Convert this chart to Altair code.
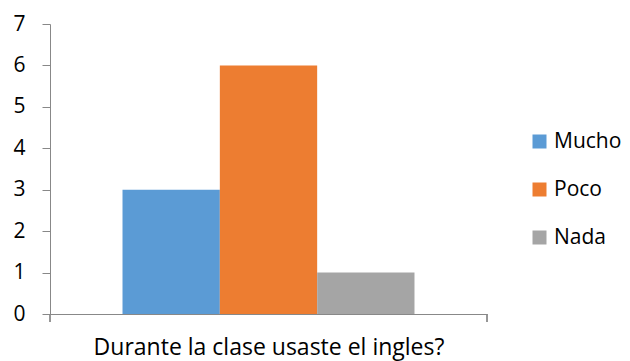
import altair as alt
import pandas as pd

series = ["Mucho", "Poco", "Nada"]
values = [3, 6, 1]
colors = ["#5B9BD5", "#ED7D31", "#A5A5A5"]
y_ticks = [0, 1, 2, 3, 4, 5, 6, 7]
x_title = "Durante la clase usaste el ingles?"

df = pd.DataFrame({"serie": series, "valor": values})

W, H = 437, 290
FONT = "Open Sans"
AX = "#888888"

bars = alt.Chart(df).mark_bar().encode(
    x=alt.X("serie:N", sort=series,
            scale=alt.Scale(paddingInner=0, paddingOuter=0.745),
            axis=alt.Axis(title=x_title, labels=False, ticks=False,
                          domainColor=AX, titleFont=FONT, titleFontSize=23,
                          titleFontWeight="normal", titleColor="#000000",
                          titlePadding=22)),
    y=alt.Y("valor:Q", scale=alt.Scale(domain=[0, 7], nice=False),
            axis=alt.Axis(title=None, values=y_ticks, grid=False, tickSize=8,
                          tickColor=AX, domainColor=AX, labelFont=FONT,
                          labelFontSize=21, labelColor="#000000",
                          labelPadding=17, format="d")),
    color=alt.Color("serie:N", sort=series,
                    scale=alt.Scale(domain=series, range=colors),
                    legend=alt.Legend(title=None, orient="none", legendX=479,
                                      legendY=107, symbolType="square",
                                      symbolSize=196, symbolStrokeWidth=0,
                                      labelFont=FONT, labelFontSize=21,
                                      labelColor="#000000", labelOffset=4,
                                      rowPadding=26)),
)

tick_l = alt.Chart(df).mark_rule(color=AX, strokeWidth=1).encode(
    x=alt.value(0), y=alt.value(H), y2=alt.value(H + 8))
tick_r = alt.Chart(df).mark_rule(color=AX, strokeWidth=1).encode(
    x=alt.value(W), y=alt.value(H), y2=alt.value(H + 8))

chart = alt.layer(bars, tick_l, tick_r).properties(
    width=W, height=H,
    autosize=alt.AutoSizeParams(type="none"),
    padding={"left": 42, "top": 16, "right": 135, "bottom": 47},
).configure_view(stroke=None)

chart.save("out.html", embed_options={"renderer": "svg", "actions": False})
